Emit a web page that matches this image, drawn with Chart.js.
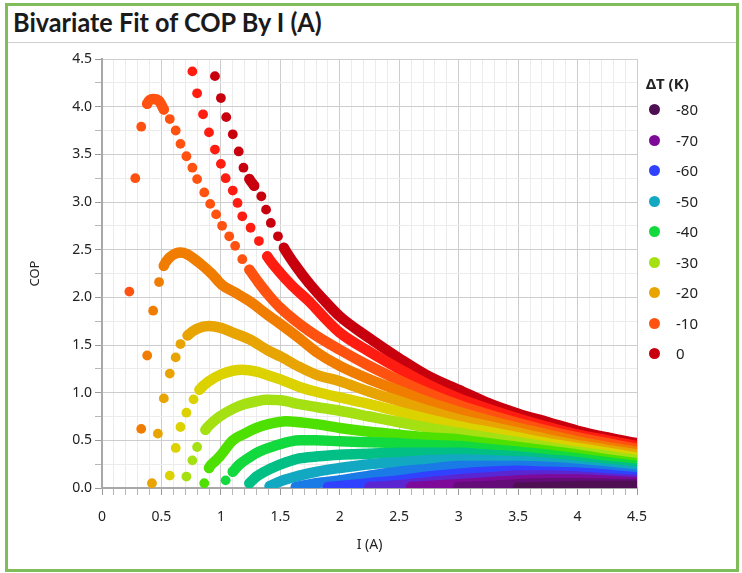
<!DOCTYPE html>
<html>
<head>
<meta charset="utf-8">
<script src="https://cdn.jsdelivr.net/npm/chart.js@4.4.1/dist/chart.umd.min.js"></script>
<style>
  body { margin: 0; background: #fff; width: 742px; height: 573px; overflow: hidden; position: relative; }
  #frame { position: absolute; left: 5px; top: 3px; width: 734px; height: 569px; border: 3px solid #80bd5a; box-sizing: border-box; }
  #sep { position: absolute; left: 8px; top: 42px; width: 728px; height: 1px; background: #cfcfcf; }
  #title { position: absolute; left: 13px; top: 6px; font: bold 26px Lato, sans-serif; color: #1a1a1a; transform: scaleX(0.97); transform-origin: left top; white-space: nowrap; }
  #chart { position: absolute; left: 0; top: 0; }
  #legend { position: absolute; left: 646px; top: 72px; font: 15px "Noto Sans", sans-serif; color: #222; }
  #legend .ttl { font-weight: bold; height: 22px; line-height: 22px; }
  #legend .item { position: relative; height: 30.5px; line-height: 30.5px; padding-left: 30px; }
  #legend .dot { position: absolute; left: 3px; top: 10px; width: 11px; height: 11px; border-radius: 50%; }
</style>
</head>
<body>
<div id="frame"></div>
<div id="title">Bivariate Fit of COP By I (A)</div>
<div id="sep"></div>
<canvas id="chart" width="742" height="573"></canvas>
<div id="legend"></div>
<script>
// COP vs current I (A), one curve per ΔT (K)
const dT_80 = [[3.5,0.005],[3.75,0.01],[4.0,0.02],[4.25,0.02],[4.5,0.02]];
const dT_75 = [[3.0,0.01],[3.25,0.02],[3.5,0.04],[3.75,0.05],[4.0,0.05],[4.25,0.045],[4.5,0.04]];
const dT_70 = [[2.6,0.01],[2.75,0.02],[3.0,0.04],[3.25,0.06],[3.5,0.08],[3.75,0.09],[4.0,0.09],[4.25,0.075],[4.5,0.06]];
const dT_65 = [[2.25,0.01],[2.5,0.03],[2.75,0.06],[3.0,0.09],[3.25,0.11],[3.5,0.13],[3.75,0.13],[4.0,0.12],[4.25,0.10],[4.5,0.085]];
const dT_60 = [[1.9,0.01],[2.0,0.02],[2.25,0.05],[2.5,0.08],[2.75,0.12],[3.0,0.15],[3.25,0.17],[3.5,0.18],[3.75,0.17],[4.0,0.16],[4.25,0.14],[4.5,0.11]];
const dT_55 = [[1.63,0.01],[1.8,0.05],[2.0,0.08],[2.25,0.13],[2.5,0.17],[2.75,0.20],[3.0,0.23],[3.25,0.23],[3.5,0.23],[3.75,0.22],[4.0,0.20],[4.25,0.17],[4.5,0.14]];
const dT_50 = [[1.41,0.02],[1.5,0.07],[1.66,0.13],[1.8,0.17],[2.0,0.21],[2.25,0.25],[2.5,0.27],[2.75,0.29],[3.0,0.30],[3.25,0.29],[3.5,0.28],[3.75,0.26],[4.0,0.23],[4.25,0.20],[4.5,0.17]];
const dT_45 = [[1.24,0.05],[1.30,0.12],[1.43,0.21],[1.55,0.27],[1.66,0.31],[1.8,0.33],[2.0,0.35],[2.25,0.36],[2.5,0.37],[2.75,0.37],[3.0,0.37],[3.25,0.35],[3.5,0.33],[3.75,0.30],[4.0,0.27],[4.25,0.23],[4.5,0.20]];
const dT_40 = [[1.04,0.08],[1.10,0.17],[1.15,0.24],[1.25,0.33],[1.32,0.38],[1.45,0.44],[1.66,0.50],[1.8,0.50],[2.0,0.49],[2.25,0.48],[2.5,0.47],[2.75,0.45],[3.0,0.44],[3.25,0.41],[3.5,0.38],[3.75,0.35],[4.0,0.31],[4.25,0.27],[4.5,0.23]];
const dT_35 = [[0.86,0.05],[0.90,0.21],[0.95,0.28],[0.99,0.33],[1.1,0.50],[1.2,0.57],[1.3,0.63],[1.4,0.67],[1.55,0.70],[1.66,0.69],[1.8,0.67],[2.0,0.63],[2.25,0.59],[2.5,0.56],[2.75,0.53],[3.0,0.51],[3.25,0.47],[3.5,0.43],[3.75,0.39],[4.0,0.35],[4.25,0.30],[4.5,0.26]];
const dT_30 = [[0.71,0.12],[0.76,0.29],[0.80,0.43],[0.87,0.61],[0.93,0.69],[0.99,0.75],[1.1,0.83],[1.2,0.88],[1.3,0.91],[1.38,0.925],[1.5,0.92],[1.66,0.88],[1.8,0.85],[2.0,0.81],[2.25,0.75],[2.5,0.69],[2.75,0.63],[3.0,0.58],[3.25,0.53],[3.5,0.48],[3.75,0.43],[4.0,0.38],[4.25,0.34],[4.5,0.29]];
const dT_25 = [[0.57,0.13],[0.62,0.42],[0.66,0.64],[0.71,0.79],[0.77,0.93],[0.82,1.03],[0.9,1.12],[1.0,1.19],[1.1,1.23],[1.18,1.24],[1.3,1.22],[1.4,1.18],[1.5,1.14],[1.66,1.06],[1.8,1.01],[2.0,0.95],[2.25,0.88],[2.5,0.80],[2.75,0.72],[3.0,0.65],[3.25,0.59],[3.5,0.53],[3.75,0.47],[4.0,0.42],[4.25,0.37],[4.5,0.32]];
const dT_20 = [[0.42,0.05],[0.47,0.57],[0.52,0.94],[0.57,1.20],[0.62,1.37],[0.66,1.51],[0.72,1.60],[0.8,1.67],[0.9,1.70],[1.0,1.68],[1.1,1.63],[1.24,1.56],[1.4,1.44],[1.5,1.38],[1.66,1.27],[1.8,1.19],[2.0,1.12],[2.25,1.01],[2.5,0.91],[2.75,0.81],[3.0,0.72],[3.25,0.65],[3.5,0.58],[3.75,0.51],[4.0,0.45],[4.25,0.40],[4.5,0.35]];
const dT_15 = [[0.33,0.62],[0.38,1.39],[0.43,1.86],[0.48,2.16],[0.52,2.33],[0.57,2.42],[0.62,2.46],[0.66,2.47],[0.72,2.45],[0.82,2.36],[0.92,2.25],[1.01,2.13],[1.12,2.05],[1.24,1.96],[1.4,1.81],[1.5,1.72],[1.66,1.57],[1.8,1.43],[2.0,1.28],[2.25,1.14],[2.5,1.02],[2.75,0.90],[3.0,0.80],[3.25,0.71],[3.5,0.63],[3.75,0.56],[4.0,0.49],[4.25,0.43],[4.5,0.38]];
const dT_10 = [[0.23,2.06],[0.28,3.25],[0.33,3.79],[0.38,4.03],[0.43,4.08],[0.48,4.06],[0.52,3.97],[0.57,3.87],[0.62,3.75],[0.66,3.61],[0.71,3.48],[0.76,3.36],[0.80,3.24],[0.86,3.10],[0.91,2.98],[0.96,2.87],[1.01,2.75],[1.07,2.64],[1.12,2.54],[1.18,2.40],[1.24,2.29],[1.32,2.15],[1.41,2.01],[1.5,1.89],[1.75,1.64],[2.0,1.45],[2.25,1.28],[2.5,1.13],[2.75,0.99],[3.0,0.87],[3.25,0.77],[3.5,0.68],[3.75,0.60],[4.0,0.53],[4.25,0.47],[4.5,0.41]];
const dT_5 = [[0.76,4.37],[0.80,4.14],[0.85,3.92],[0.90,3.73],[0.95,3.55],[1.0,3.40],[1.04,3.25],[1.10,3.12],[1.14,2.99],[1.18,2.85],[1.25,2.73],[1.32,2.59],[1.39,2.43],[1.49,2.27],[1.60,2.12],[1.74,1.96],[1.86,1.80],[2.0,1.63],[2.25,1.43],[2.5,1.25],[2.75,1.08],[3.0,0.94],[3.25,0.83],[3.5,0.73],[3.75,0.64],[4.0,0.56],[4.25,0.50],[4.5,0.44]];
const dT_0 = [[0.95,4.32],[1.0,4.09],[1.045,3.89],[1.10,3.71],[1.15,3.53],[1.19,3.36],[1.24,3.24],[1.28,3.17],[1.34,3.06],[1.38,2.92],[1.42,2.78],[1.48,2.64],[1.53,2.52],[1.63,2.33],[1.74,2.15],[1.86,1.98],[2.0,1.80],[2.25,1.57],[2.5,1.36],[2.75,1.17],[3.0,1.03],[3.25,0.89],[3.5,0.78],[3.75,0.69],[4.0,0.60],[4.25,0.53],[4.5,0.47]];

const deltaT = [-80, -75, -70, -65, -60, -55, -50, -45, -40, -35, -30, -25, -20, -15, -10, -5, 0];
const series = [dT_80, dT_75, dT_70, dT_65, dT_60, dT_55, dT_50, dT_45, dT_40, dT_35, dT_30, dT_25, dT_20, dT_15, dT_10, dT_5, dT_0];
const legendDeltaT = [-80, -70, -60, -50, -40, -30, -20, -10, 0];

// colour for each ΔT
const palette = {
  "-80": "#4e1052", "-75": "#640c78", "-70": "#7d0a98", "-65": "#5a26d2", "-60": "#3042ff",
  "-55": "#1a7ae6", "-50": "#12a8c2", "-45": "#02bf86", "-40": "#12d93e", "-35": "#4ee000",
  "-30": "#a4e012", "-25": "#dcd200", "-20": "#e8a402", "-15": "#f07c00", "-10": "#ff5210",
  "-5": "#ff1c10", "0": "#c8000e"
};

const isHalf = v => Math.abs(v * 2 - Math.round(v * 2)) < 1e-6;

// sparse start points stay as separate dots
const gapColor = ctx => {
  const dx = ctx.p1.x - ctx.p0.x, dy = ctx.p1.y - ctx.p0.y;
  return (dx < 9 && Math.hypot(dx, dy) > 11) ? "rgba(0,0,0,0)" : undefined;
};

const datasets = deltaT.map((t, i) => ({
  label: String(t),
  data: series[i].map(p => ({ x: p[0], y: p[1] })),
  borderColor: palette[t],
  backgroundColor: palette[t],
  pointBackgroundColor: palette[t],
  pointBorderWidth: 0,
  pointRadius: 4.9,
  borderWidth: 10.5,
  borderJoinStyle: "round",
  borderCapStyle: "round",
  cubicInterpolationMode: "monotone",
  segment: { borderColor: gapColor },
  clip: 0
}));

const tickFont = { family: "'Noto Sans', sans-serif", size: 14 };

new Chart(document.getElementById("chart"), {
  type: "line",
  data: { datasets: datasets },
  options: {
    responsive: false,
    animation: false,
    events: [],
    layout: { padding: { left: 27, right: 105, top: 59, bottom: 20 } },
    plugins: { legend: { display: false }, tooltip: { enabled: false } },
    scales: {
      x: {
        type: "linear", min: 0, max: 4.5,
        afterFit: s => { s.height = 65; },
        ticks: {
          stepSize: 0.1, autoSkip: false, maxRotation: 0, maxTicksLimit: 100, padding: 14,
          color: "#222", font: tickFont,
          callback: v => isHalf(v) ? String(Math.round(v * 10) / 10) : ""
        },
        grid: {
          color: c => (c.tick && isHalf(c.tick.value)) ? "#cdcdcd" : "#ececec",
          tickColor: c => (c.tick && isHalf(c.tick.value)) ? "#9a9a9a" : "#b8b8b8",
          tickLength: 7
        },
        border: { color: "#a8a8a8", width: 2 },
        title: { display: true, text: "I (A)", color: "#222", font: { family: "'Noto Sans', sans-serif", size: 14 }, padding: { top: 0, bottom: 0 } }
      },
      y: {
        type: "linear", min: 0, max: 4.5,
        afterFit: s => { s.width = 75; },
        ticks: {
          stepSize: 0.25, autoSkip: false, maxTicksLimit: 100, padding: 3,
          color: "#222", font: tickFont,
          callback: v => isHalf(v) ? v.toFixed(1) : ""
        },
        grid: {
          color: c => (c.tick && isHalf(c.tick.value)) ? "#cdcdcd" : "#ececec",
          tickColor: c => (c.tick && isHalf(c.tick.value)) ? "#9a9a9a" : "#b8b8b8",
          tickLength: 7
        },
        border: { color: "#a8a8a8", width: 2 },
        title: { display: true, text: "COP", color: "#222", font: { family: "'Noto Sans', sans-serif", size: 13 }, padding: { top: 0, bottom: 0 } }
      }
    }
  }
});

// legend
const legend = document.getElementById("legend");
legend.innerHTML = '<div class="ttl">ΔT (K)</div>' + legendDeltaT.map(t =>
  '<div class="item"><span class="dot" style="background:' + palette[t] + '"></span>' + t + '</div>').join("");
</script>
</body>
</html>
